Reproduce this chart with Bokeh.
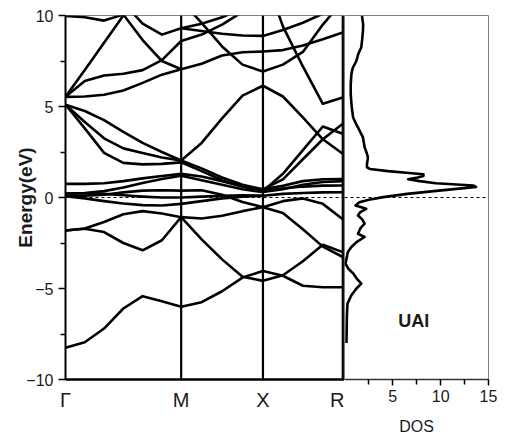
import numpy as np
from bokeh.plotting import figure
from bokeh.layouts import row
from bokeh.models import Range1d, FixedTicker, Span, Label
from bokeh.embed import file_html
from bokeh.resources import INLINE

# ---------------- data ----------------
K_LABELS = ["Γ", "M", "X", "R"]
K_POINTS = [0.0, 1.0, 1.707, 2.397]

E_TICKS = [-10, -5, 0, 5, 10]
E_MINOR = [-7.5, -2.5, 2.5, 7.5]
DOS_TICKS = [5, 10, 15]
DOS_MINOR = [2.5, 7.5, 12.5]

# k sample grids along each path segment
K_GM = [0.0, 0.1667, 0.3333, 0.5, 0.6667, 0.8333, 1.0]
K_MX = [1.0, 1.1768, 1.3536, 1.5303, 1.707]
K_XR = [1.707, 1.8796, 2.0522, 2.2248, 2.397]

N = None
# band energies (eV) on the Gamma-M grid
BANDS_GM = [
    [-8.25, -7.95, -7.2, -6.1, -5.42, -5.7, -6.0],
    [-1.81, -1.72, -1.9, -2.5, -2.9, -2.35, -1.08],
    [-1.81, -1.7, -1.35, -0.92, -0.75, -0.88, -1.08],
    [0.07, -0.05, -0.2, -0.33, -0.42, -0.44, -0.35],
    [0.07, 0.1, 0.15, 0.28, 0.38, 0.4, 0.38],
    [0.22, 0.25, 0.35, 0.55, 0.8, 1.02, 1.2],
    [0.75, 0.75, 0.78, 0.9, 1.05, 1.18, 1.3],
    [0.22, 0.22, 0.2, 0.12, 0.05, 0.0, 0.0],
    [5.1, 3.8, 2.45, 1.9, 1.82, 1.85, 1.93],
    [5.1, 4.15, 3.25, 2.7, 2.45, 2.2, 2.03],
    [5.1, 4.75, 4.25, 3.6, 3.0, 2.5, 2.03],
    [5.53, 5.55, 5.65, 5.88, 6.3, 6.75, 7.05],
    [5.53, 6.4, 6.7, 6.8, 7.0, 7.55, 8.6],
    [5.53, 7.0, 8.5, 10.0, 11.5, N, N],
    [9.97, 9.9, 9.72, 10.05, 8.65, 7.5, 7.05],
    [N, N, 11.2, 10.7, 9.55, 8.95, 9.3],
]
# band energies (eV) on the M-X grid
BANDS_MX = [
    [-6.0, -5.75, -5.15, -4.4, -4.04],
    [-1.08, -2.3, -3.4, -4.35, -4.58],
    [-1.08, -1.15, -1.0, -0.75, -0.53],
    [0.38, 0.4, 0.15, -0.25, -0.53],
    [-0.35, -0.2, -0.05, 0.05, 0.1],
    [1.2, 0.95, 0.7, 0.45, 0.3],
    [1.3, 1.15, 0.9, 0.6, 0.4],
    [0.0, 0.05, 0.1, 0.12, 0.1],
    [2.03, 1.6, 1.1, 0.7, 0.45],
    [1.93, 1.45, 0.95, 0.6, 0.35],
    [2.03, 3.0, 4.35, 5.6, 6.14],
    [7.05, 7.35, 7.8, 7.98, 8.02],
    [10.8, 9.6, 8.3, 7.3, 6.92],
    [9.3, 9.55, 9.9, 10.4, 11.0],
    [8.6, 8.95, 9.5, 10.2, 10.9],
    [9.3, 9.15, 9.0, 8.9, 8.88],
]
# band energies (eV) on the X-R grid
BANDS_XR = [
    [-4.04, -4.3, -4.85, -4.93, -4.93],
    [-4.58, -4.27, -3.5, -2.6, -3.0],
    [-0.53, -0.85, -1.75, -2.7, -3.27],
    [-0.53, -0.2, -0.05, -0.35, -1.2],
    [0.45, 0.65, 0.9, 1.0, 1.02],
    [0.35, 0.5, 0.6, 0.65, 0.66],
    [0.1, 0.2, 0.25, 0.28, 0.29],
    [0.3, 0.45, 0.7, 0.85, 0.9],
    [0.35, 1.3, 2.6, 3.9, 3.5],
    [0.45, 1.0, 2.1, 3.2, 4.05],
    [6.14, 5.55, 4.4, 3.2, 2.4],
    [12.5, 9.4, 7.2, 5.15, 5.5],
    [6.92, 7.3, 8.0, 9.5, 10.8],
    [8.02, 8.1, 8.35, 8.7, 9.06],
    [8.88, 9.2, 9.6, 10.1, 10.6],
]

# total density of states: energy (eV) and DOS value
DOS_E = [9.97, 9.5, 9.15, 8.7, 8.24, 7.9, 7.5, 7.1, 6.78, 6.2, 5.68, 5.0, 4.4, 4.0,
         3.67, 3.3, 2.76, 2.4, 2.2, 1.85, 1.66, 1.57, 1.45, 1.33, 1.28, 1.18, 1.1,
         1.0, 0.9, 0.78, 0.66, 0.58, 0.5, 0.38, 0.2, 0.02, -0.12, -0.26, -0.44,
         -0.62, -0.8, -0.99, -1.2, -1.44, -1.7, -1.99, -2.17, -2.45, -2.72, -3.0,
         -3.36, -3.63, -3.9, -4.2, -4.5, -4.73, -5.0, -5.37, -5.83, -6.5, -7.2, -8.0]
DOS_V = [1.78, 1.9, 1.88, 1.8, 1.7, 1.4, 1.19, 0.8, 0.67, 0.6, 0.6, 0.7, 0.85, 1.2,
         1.53, 1.88, 2.05, 2.3, 2.4, 2.3, 2.3, 2.6, 4.5, 7.0, 8.2, 8.2, 7.6,
         6.6, 7.8, 9.5, 13.4, 13.7, 12.2, 9.8, 6.5, 4.0, 2.5, 1.5, 1.1,
         2.22, 1.6, 1.36, 1.8, 2.05, 1.6, 1.36, 2.05, 1.2, 0.67, 0.3,
         0.16, 0.05, 0.33, 0.9, 1.3, 1.7, 1.2, 0.67, 0.26, 0.2, 0.18, 0.16]

FONT = "Liberation Sans"
TXT = "#1a1a1a"
LW = 2.6

# ---------------- band structure panel ----------------
p = figure(width=344, height=437, x_range=Range1d(0, 2.412), y_range=Range1d(-10, 10),
           output_backend="svg", toolbar_location=None,
           min_border_left=65, min_border_right=0, min_border_top=15, min_border_bottom=57)
p.xgrid.visible = False
p.ygrid.visible = False
p.outline_line_color = "#808080"
p.outline_line_width = 1
p.background_fill_color = "white"

ya = p.yaxis[0]
ya.ticker = FixedTicker(ticks=E_TICKS, minor_ticks=E_MINOR)
ya.axis_line_width = 2
ya.major_tick_out = 7
ya.major_tick_in = 0
ya.minor_tick_out = 5
ya.minor_tick_in = 0
ya.major_tick_line_width = 1.5
ya.minor_tick_line_width = 1.5
ya.major_label_standoff = 5
ya.major_label_text_font = FONT
ya.major_label_text_font_size = "16px"
ya.major_label_text_color = TXT
ya.axis_label = "Energy(eV)"
ya.axis_label_text_font = FONT
ya.axis_label_text_font_size = "19px"
ya.axis_label_text_font_style = "bold"
ya.axis_label_text_color = TXT
ya.axis_label_standoff = -13

xa = p.xaxis[0]
xa.ticker = FixedTicker(ticks=K_POINTS, minor_ticks=[])
xa.major_label_overrides = {k: lab for k, lab in zip(K_POINTS, K_LABELS)}
xa.axis_line_width = 2.5
xa.major_tick_out = 0
xa.major_tick_in = 0
xa.minor_tick_out = 0
xa.major_label_standoff = 9
xa.major_label_text_font = FONT
xa.major_label_text_font_size = "20px"
xa.major_label_text_color = TXT

for k in K_POINTS[1:]:
    p.add_layout(Span(location=k, dimension="height", line_color="black", line_width=2.2))
p.add_layout(Span(location=0, dimension="width", line_color="black", line_width=1,
                  line_dash="3 3"))

for grid, bands in ((K_GM, BANDS_GM), (K_MX, BANDS_MX), (K_XR, BANDS_XR)):
    for band in bands:
        ks = [k for k, e in zip(grid, band) if e is not None]
        es = [e for e in band if e is not None]
        p.line(ks, es, line_color="black", line_width=LW, line_join="round")

# ---------------- DOS panel ----------------
d = figure(width=169, height=437, x_range=Range1d(-0.05, 15), y_range=p.y_range,
           output_backend="svg", toolbar_location=None, y_axis_location=None,
           min_border_left=0, min_border_right=25, min_border_top=15, min_border_bottom=57)
d.xgrid.visible = False
d.ygrid.visible = False
d.outline_line_color = "#808080"
d.outline_line_width = 1
d.background_fill_color = "white"

da = d.xaxis[0]
da.ticker = FixedTicker(ticks=DOS_TICKS, minor_ticks=DOS_MINOR)
da.axis_line_width = 1.5
da.axis_line_color = "#333333"
da.major_tick_out = 6
da.major_tick_in = 0
da.minor_tick_out = 5
da.minor_tick_in = 0
da.major_tick_line_width = 1.5
da.minor_tick_line_width = 1.5
da.major_label_standoff = 4
da.major_label_text_font = FONT
da.major_label_text_font_size = "16px"
da.major_label_text_color = TXT
da.axis_label = "DOS"
da.axis_label_text_font = FONT
da.axis_label_text_font_size = "16px"
da.axis_label_text_font_style = "normal"
da.axis_label_text_color = TXT
da.axis_label_standoff = 13

d.add_layout(Span(location=0, dimension="width", line_color="black", line_width=1,
                  line_dash="3 3"))
d.line(DOS_V, DOS_E, line_color="black", line_width=LW, line_join="round")

d.add_layout(Label(x=7.2, y=-6.8, text="UAI", text_align="center", text_baseline="middle",
                   text_font=FONT, text_font_size="18px", text_font_style="bold",
                   text_color=TXT))
d.add_layout(Label(x=15.5, y=0, text="Ef", text_align="left", text_baseline="middle",
                   text_font=FONT, text_font_size="15px", text_color=TXT))

layout = row(p, d)
open("out.html", "w").write(file_html(layout, INLINE))
